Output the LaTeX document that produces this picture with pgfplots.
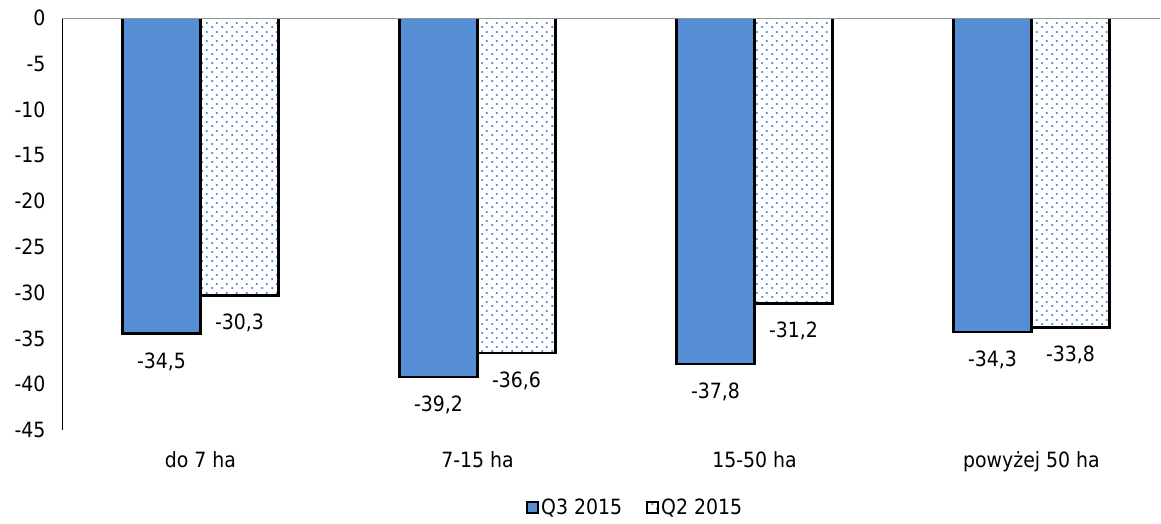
\documentclass[border=0pt]{standalone}
\usepackage{fontspec}
\setmainfont{DejaVu Sans Condensed}
\usepackage{pgfplots}
\pgfplotsset{compat=1.18}
\usetikzlibrary{patterns.meta}

\definecolor{barblue}{HTML}{558ED5}
\tikzdeclarepattern{
  name=exceldots, type=uncolored,
  bottom left={(0pt,0pt)}, top right={(10pt,9pt)},
  tile size={(10pt,9pt)},
  code={
    \fill (1.5pt,1.25pt) rectangle (3.5pt,3.25pt);
    \fill (6.5pt,5.75pt) rectangle (8.5pt,7.75pt);
  }
}
\newcommand{\fnt}{\fontsize{21}{25}\selectfont}

\begin{document}
\begin{tikzpicture}
\path[use as bounding box] (-62pt,-93pt) rectangle (1099pt,430pt);
\begin{axis}[
  scale only axis, width=1098pt, height=412pt,
  ybar=0pt, bar width=78pt,
  xmin=-0.5, xmax=3.464, ymin=-45, ymax=0,
  xtick={0,1,2,3},
  xticklabels={do 7 ha, 7-15 ha, 15-50 ha, powyżej 50 ha},
  ytick={0,-5,-10,-15,-20,-25,-30,-35,-40,-45},
  axis x line=bottom, axis y line=left,
  x axis line style={draw=none},
  y axis line style={black, line width=0.8pt, -},
  major tick length=0pt,
  /pgf/number format/assume math mode=true,
  xticklabel style={font=\fnt, yshift=-18pt},
  yticklabel style={font=\fnt, xshift=-13pt},
  nodes near coords={\pgfmathprintnumber[fixed,fixed zerofill,precision=1,use comma,assume math mode=true]{\pgfplotspointmeta}},
  every node near coord/.append style={font=\fnt, yshift=-14pt, black},
  legend columns=2,
  legend style={at={(0.522,-0.187)}, anchor=center, draw=none, font=\fnt,
    /tikz/every even column/.append style={column sep=22pt}},
  legend image code/.code={\draw[#1, line width=2pt] (0pt,-5.5pt) rectangle (11pt,5.5pt);},
]
\addplot[draw=black, line width=2.8pt, fill=barblue]
  coordinates {(0,-34.5) (1,-39.2) (2,-37.8) (3,-34.3)};
\addlegendentry{Q3 2015}
\addplot[draw=black, line width=2.8pt, pattern=exceldots, pattern color=barblue]
  coordinates {(0,-30.3) (1,-36.6) (2,-31.2) (3,-33.8)};
\addlegendentry{Q2 2015}
\draw[gray!85, line width=1.5pt] (rel axis cs:0,1) -- (rel axis cs:1,1);
\end{axis}
\end{tikzpicture}
\end{document}
